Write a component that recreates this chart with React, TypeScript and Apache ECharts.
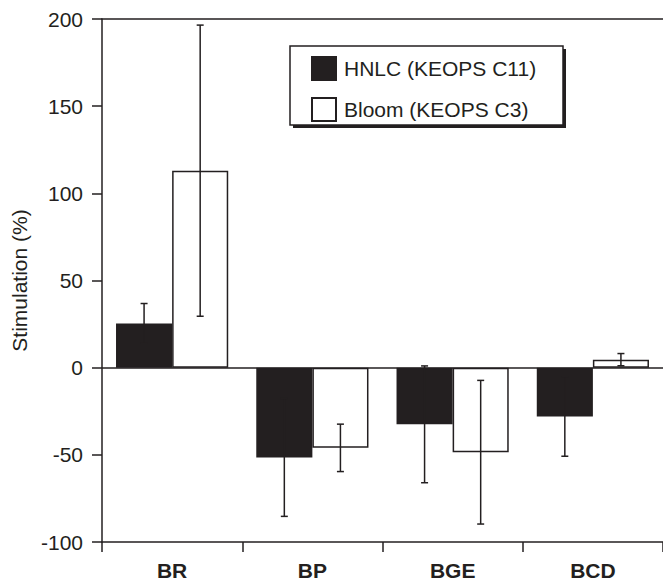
import React, { useEffect, useRef } from "react";
import * as echarts from "echarts";

const categories = ["BR", "BP", "BGE", "BCD"];
const seriesNames = ["HNLC (KEOPS C11)", "Bloom (KEOPS C3)"];
const hnlcValues = [25.4, -51.5, -32.5, -28];
const hnlcErrors = [11.4, 33.8, 33.5, 22.8];
const bloomValues = [113, -46, -48.5, 4.6];
const bloomErrors = [83.5, 13.6, 41.2, 3.5];
const yTicks = { min: -100, max: 200, interval: 50 };

const INK = "#231f20";
const FONT = "'Liberation Sans', Arial, sans-serif";

function errorSeries(name: string, values: number[], errors: number[], sign: number) {
  return {
    type: "custom",
    name: name + " error",
    silent: true,
    z: 5,
    encode: { x: 0, y: 1 },
    data: values.map((v, i) => [i, v, errors[i]]),
    renderItem: (params: any, api: any) => {
      const idx = api.value(0);
      const mean = api.value(1);
      const err = api.value(2);
      const top = api.coord([idx, mean + err]);
      const bot = api.coord([idx, mean - err]);
      const band = api.size([1, 0])[0];
      const x = top[0] + sign * band * 0.2;
      const cap = 3.5;
      const style = { stroke: INK, lineWidth: 1.5, fill: null };
      return {
        type: "group",
        children: [
          { type: "line", shape: { x1: x, y1: top[1], x2: x, y2: bot[1] }, style },
          { type: "line", shape: { x1: x - cap, y1: top[1], x2: x + cap, y2: top[1] }, style },
          { type: "line", shape: { x1: x - cap, y1: bot[1], x2: x + cap, y2: bot[1] }, style },
        ],
      };
    },
  };
}

export default function App() {
  const ref = useRef<HTMLDivElement>(null);
  useEffect(() => {
    if (!ref.current) return;
    const chart = echarts.init(ref.current, undefined, { renderer: "svg" });
    chart.setOption({
      animation: false,
      backgroundColor: "#ffffff",
      textStyle: { fontFamily: FONT, color: INK },
      grid: { left: 102, top: 19, width: 564, height: 524 },
      legend: {
        left: 311,
        top: 56,
        orient: "vertical",
        padding: 0,
        itemWidth: 24,
        itemHeight: 23,
        itemGap: 16,
        icon: "rect",
        selectedMode: false,
        data: seriesNames,
        textStyle: { fontSize: 21, color: INK, fontFamily: FONT, padding: [0, 0, 0, 3] },
      },
      graphic: [
        { type: "rect", z: 0, shape: { x: 293, y: 49, width: 273, height: 79 }, style: { fill: INK } },
        { type: "rect", z: 1, shape: { x: 290, y: 46, width: 273, height: 79 }, style: { fill: "#fff", stroke: INK, lineWidth: 1.5 } },
      ],
      xAxis: [
        {
          type: "category",
          data: categories,
          position: "bottom",
          axisLine: { onZero: false, lineStyle: { color: INK, width: 1.5 } },
          axisTick: { show: true, length: 10, lineStyle: { color: INK, width: 1.5 } },
          axisLabel: { fontSize: 21, fontWeight: "bold", color: INK, fontFamily: FONT, margin: 18 },
        },
        {
          type: "category",
          data: categories,
          position: "top",
          axisLine: { onZero: false, lineStyle: { color: INK, width: 1.5 } },
          axisTick: { show: false },
          axisLabel: { show: false },
        },
      ],
      yAxis: {
        type: "value",
        min: yTicks.min,
        max: yTicks.max,
        interval: yTicks.interval,
        name: "Stimulation (%)",
        nameLocation: "middle",
        nameGap: 68,
        nameTextStyle: { fontSize: 21, color: INK, fontFamily: FONT },
        axisLine: { show: true, lineStyle: { color: INK, width: 1.5 } },
        axisTick: { show: true, length: 10, lineStyle: { color: INK, width: 1.5 } },
        axisLabel: { fontSize: 21, color: INK, fontFamily: FONT, margin: 19 },
        splitLine: { show: false },
      },
      series: [
        {
          type: "bar",
          name: seriesNames[0],
          data: hnlcValues,
          barWidth: "40%",
          barGap: "0%",
          itemStyle: { color: INK, borderColor: INK, borderWidth: 1.5 },
          markLine: {
            silent: true,
            symbol: ["none", "none"],
            label: { show: false },
            lineStyle: { color: INK, width: 1.5, type: "solid" },
            data: [{ yAxis: 0 }],
            z: 6,
          },
        },
        {
          type: "bar",
          name: seriesNames[1],
          data: bloomValues,
          barWidth: "40%",
          barGap: "0%",
          itemStyle: { color: "#ffffff", borderColor: INK, borderWidth: 1.5 },
        },
        errorSeries(seriesNames[0], hnlcValues, hnlcErrors, -1),
        errorSeries(seriesNames[1], bloomValues, bloomErrors, 1),
      ],
    });
    return () => chart.dispose();
  }, []);
  return <div ref={ref} style={{ position: "absolute", left: 0, top: 0, width: 663, height: 581 }} />;
}
